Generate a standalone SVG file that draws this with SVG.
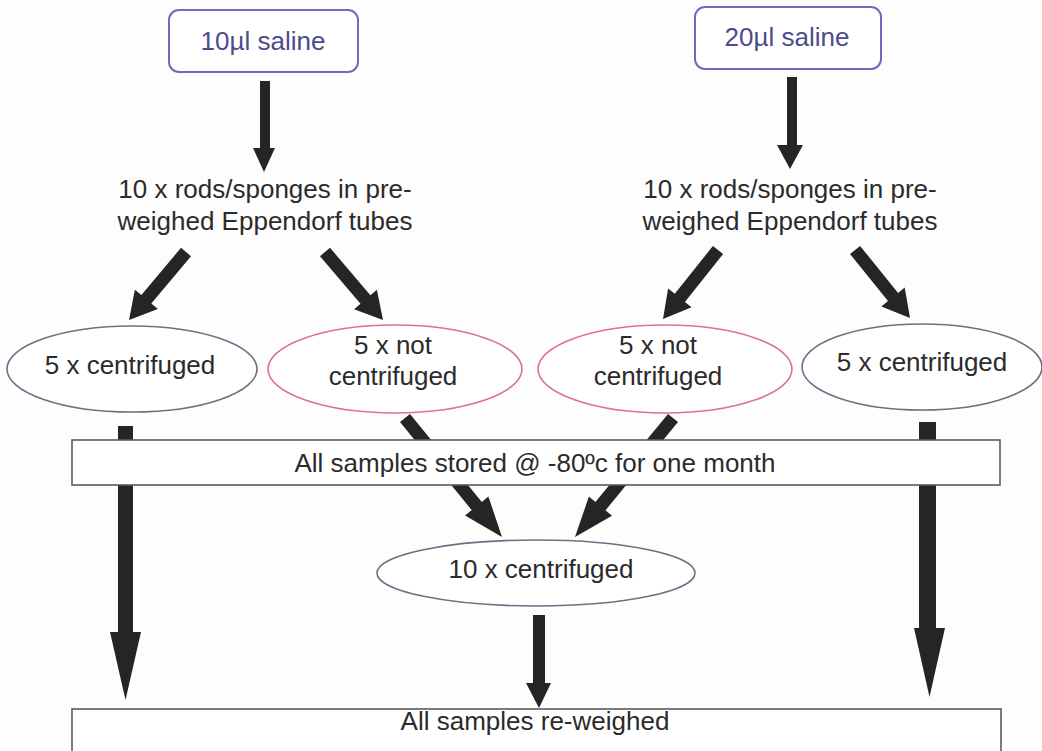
<svg xmlns="http://www.w3.org/2000/svg" width="1042" height="751" viewBox="0 0 1042 751">
<style>
text{font-family:"Liberation Sans",Arial,sans-serif;font-size:26px;fill:#2b2b2b;text-anchor:middle}
.sal{fill:#4c4c8c}
.salbox{fill:#fff;stroke:#6b6bbf;stroke-width:2}
.arr{fill:#252525}
.box{fill:#fff;stroke:#5a5a5a;stroke-width:1.6}
.eg{fill:#fff;stroke:#6e6e86;stroke-width:1.6}
.ep{fill:#fff;stroke:#e0708c;stroke-width:1.6}
</style>
<rect width="1042" height="751" fill="#fdfdfd"/>
<g id="connectors">
<polygon class="arr" points="260,81 270,81 270,148 275,148 264,172 253,148 260,148"/>
<polygon class="arr" points="787,77 797,77 797,145 803,145 790,169 777,145 787,145"/>
<polygon class="arr" points="191,256.2 151.3,303.5 157.9,308.9 129,320 134.9,289.7 141.4,295.1 181,247.8"/>
<polygon class="arr" points="330,247.8 370.4,295.2 376.9,289.7 383,320 354.1,309.2 360.5,303.7 320,256.2"/>
<polygon class="arr" points="723.1,254.1 684.9,301.9 691.6,307.2 663,319 668.1,288.5 674.8,293.8 712.9,246"/>
<polygon class="arr" points="860.1,245.9 898.1,292.9 904.7,287.6 910,318 881.4,306.4 888,301.1 850,254.1"/>
<polygon class="arr" points="410,413.9 481.8,501.9 488.4,496.5 502,537 465.1,515.5 471.7,510.1 400,422.1"/>
<polygon class="arr" points="678,422.1 605.5,510.3 612,515.7 575,537 588.9,496.6 595.4,502 668,413.9"/>
<polygon class="arr" points="118,426 133,426 133,632 141,632 125.5,700 110,632 118,632"/>
<polygon class="arr" points="919,422 936,422 936,628 945,628 929.5,697 914,628 919,628"/>
<polygon class="arr" points="533,615 545,615 545,683 551,683 539,708 526,683 533,683"/>
</g>
<g id="n-saline10">
<rect class="salbox" x="169" y="10" width="189" height="62" rx="10"/>
<text class="sal" x="263" y="50">10µl saline</text>
</g>
<g id="n-saline20">
<rect class="salbox" x="695" y="7" width="186" height="62" rx="10"/>
<text class="sal" x="787" y="46">20µl saline</text>
</g>
<g id="n-tubes-left">
<text x="265" y="198">10 x rods/sponges in pre-</text>
<text x="265" y="230">weighed Eppendorf tubes</text>
</g>
<g id="n-tubes-right">
<text x="790" y="198">10 x rods/sponges in pre-</text>
<text x="790" y="230">weighed Eppendorf tubes</text>
</g>
<g id="n-cent-left">
<ellipse class="eg" cx="132" cy="369" rx="125" ry="43"/>
<text x="130" y="374">5 x centrifuged</text>
</g>
<g id="n-notcent-left">
<ellipse class="ep" cx="395" cy="369" rx="127" ry="44"/>
<text x="393" y="354">5 x not</text>
<text x="393" y="385">centrifuged</text>
</g>
<g id="n-notcent-right">
<ellipse class="ep" cx="665" cy="369" rx="127" ry="44"/>
<text x="658" y="354">5 x not</text>
<text x="658" y="385">centrifuged</text>
</g>
<g id="n-cent-right">
<ellipse class="eg" cx="922" cy="367" rx="120" ry="43"/>
<text x="922" y="371">5 x centrifuged</text>
</g>
<g id="n-stored">
<rect class="box" x="72" y="440" width="928" height="45"/>
<text x="535" y="472">All samples stored @ -80ºc for one month</text>
</g>
<g id="n-cent10">
<ellipse class="eg" cx="536" cy="573" rx="159" ry="33"/>
<text x="541" y="578">10 x centrifuged</text>
</g>
<g id="n-reweighed">
<rect class="box" x="72" y="709" width="929" height="60"/>
<text x="535" y="730">All samples re-weighed</text>
</g>
</svg>
